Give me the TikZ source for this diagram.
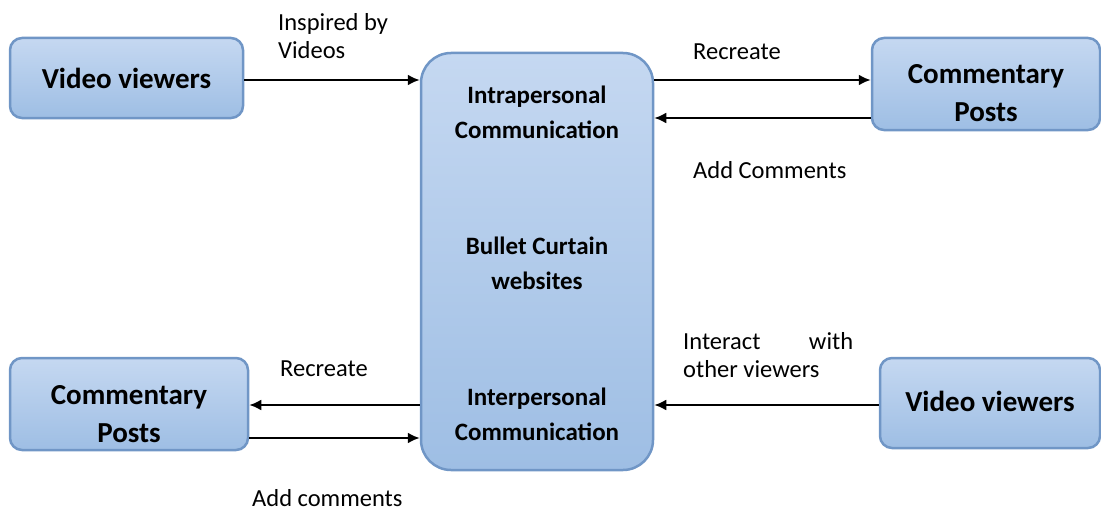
\documentclass[tikz,border=0pt]{standalone}
\usepackage{fontspec}
\setmainfont{Carlito}
\usetikzlibrary{arrows.meta}
\definecolor{bordc}{RGB}{112,150,198}
\definecolor{topc}{RGB}{197,216,241}
\definecolor{botc}{RGB}{158,190,228}
\begin{document}
\begin{tikzpicture}[x=1pt,y=-1pt,
  box/.style={draw=bordc,line width=2.5pt,rounded corners=12pt,top color=topc,bottom color=botc,inner sep=0pt},
  boxtext/.style={font=\fontsize{29}{38}\selectfont\bfseries,align=center,inner sep=0pt},
  lbl/.style={font=\fontsize{24.5}{28}\selectfont,anchor=west,align=left,inner sep=0pt},
  inner/.style={font=\fontsize{25}{35}\selectfont\bfseries,align=center,inner sep=0pt},
  arr/.style={line width=2.2pt,-{Latex[length=12pt,width=11pt]}}]
\useasboundingbox (0,0) rectangle (1101,511);
% boxes
\node[box,minimum width=233pt,minimum height=80pt] (vv1) at (126.5,78) {};
\node[box,minimum width=228pt,minimum height=92pt] (cp1) at (986,84) {};
\node[box,minimum width=238pt,minimum height=92pt] (cp2) at (129,404) {};
\node[box,minimum width=220pt,minimum height=90pt] (vv2) at (990,403) {};
\node[box,rounded corners=30pt,minimum width=232pt,minimum height=417pt] (bc) at (537,261.5) {};
% box texts
\node[boxtext] (tvv1) at (126.5,78) {Video viewers};
\node[boxtext] (tcp1) at (986,93) {Commentary\\Posts};
\node[boxtext] (tcp2) at (129,414) {Commentary\\Posts};
\node[boxtext] (tvv2) at (990,401) {Video viewers};
% inner texts
\node[inner] (intra) at (537,112) {Intrapersonal\\Communication};
\node[inner] (bullet) at (537,263) {Bullet Curtain\\websites};
\node[inner] (inter) at (537,414) {Interpersonal\\Communication};
% connectors
\draw[arr] (vv1.east |- 0,80) -- (bc.west |- 0,80);
\draw[arr] (bc.east |- 0,80) -- (cp1.west |- 0,80);
\draw[arr] (cp1.west |- 0,118) -- (bc.east |- 0,118);
\draw[arr] (bc.west |- 0,405) -- (cp2.east |- 0,405);
\draw[arr] (cp2.east |- 0,438) -- (bc.west |- 0,438);
\draw[arr] (vv2.west |- 0,405) -- (bc.east |- 0,405);
% labels
\node[lbl] (l1) at (278,36) {Inspired by\\Videos};
\node[lbl] (l2) at (693,52) {Recreate};
\node[lbl] (l3) at (693,170) {Add Comments};
\node[lbl] (l4) at (280,369) {Recreate};
\node[lbl] (l5) at (252,498) {Add comments};
\node[lbl] (l6) at (683,355) {\makebox[170pt][l]{Interact\hfill with}\\other viewers};
\end{tikzpicture}
\end{document}
